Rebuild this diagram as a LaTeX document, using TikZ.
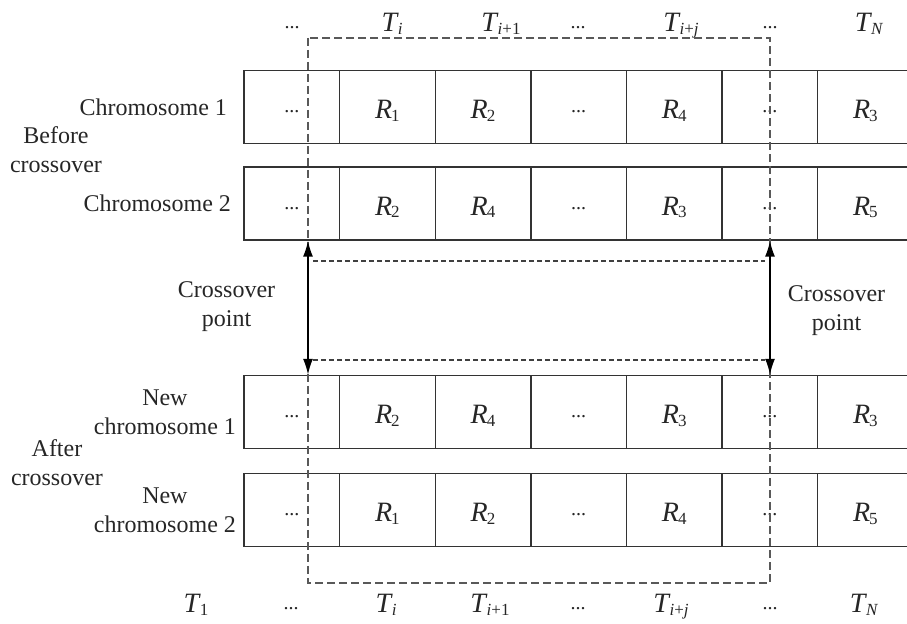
\documentclass[tikz,border=0pt]{standalone}
\usepackage{fontspec}
\setmainfont{Liberation Serif}
\usetikzlibrary{arrows.meta,positioning}
\newcommand{\sym}[2]{\textit{#1}\kern-0.5pt\raisebox{-1.2pt}{\fontsize{8.5}{9}\selectfont #2}}
\newcommand{\gapdots}{\raisebox{3pt}{\fontsize{10}{12}\selectfont ...}}

\begin{document}
\begin{tikzpicture}[x=0.5pt, y=-0.5pt,
  cell/.style={draw=black!80, line width=0.7pt, minimum width=47.8pt, minimum height=36.5pt, inner sep=0pt, text height=12pt, text depth=0pt, text=black!85, font=\fontsize{14}{16}\selectfont},
  tlab/.style={anchor=base, inner sep=0pt, text=black!85, font=\fontsize{14}{16}\selectfont},
  side/.style={inner sep=0pt, align=center, text=black!85, font=\fontsize{12}{14.5}\selectfont},
  frame/.style={draw=black!65, line width=0.6pt, dash pattern=on 4pt off 2pt},
  guide/.style={draw=black!75, line width=0.55pt, dash pattern=on 2.5pt off 1.5pt},
  xarrow/.style={{Latex[length=8pt,width=5pt]}-{Latex[length=8pt,width=5pt]}, line width=0.8pt, black}
]
  \useasboundingbox (0,0) rectangle (907,624);
  \clip (0,0) rectangle (907,624);

  \node[tlab] (ta1) at (292,29) {\fontsize{10}{12}\selectfont ...};
  \node[tlab] (ta2) at (392,32) {\sym{T}{\textit{i}}};
  \node[tlab] (ta3) at (501,32) {\sym{T}{\textit{i}+1}};
  \node[tlab] (ta4) at (578,29) {\fontsize{10}{12}\selectfont ...};
  \node[tlab] (ta5) at (681,32) {\sym{T}{\textit{i}+\textit{j}}};
  \node[tlab] (ta6) at (770,29) {\fontsize{10}{12}\selectfont ...};
  \node[tlab] (ta7) at (869,32) {\sym{T}{\textit{N}}};

  \node[cell] (a1) at (291.8,107) {\gapdots};
  \node[cell] (a2) at (387.4,107) {\sym{R}{1}};
  \node[cell] (a3) at (483.0,107) {\sym{R}{2}};
  \node[cell] (a4) at (578.6,107) {\gapdots};
  \node[cell] (a5) at (674.2,107) {\sym{R}{4}};
  \node[cell] (a6) at (769.8,107) {\gapdots};
  \node[cell] (a7) at (865.4,107) {\sym{R}{3}};

  \node[cell] (b1) at (291.8,203.5) {\gapdots};
  \node[cell] (b2) at (387.4,203.5) {\sym{R}{2}};
  \node[cell] (b3) at (483.0,203.5) {\sym{R}{4}};
  \node[cell] (b4) at (578.6,203.5) {\gapdots};
  \node[cell] (b5) at (674.2,203.5) {\sym{R}{3}};
  \node[cell] (b6) at (769.8,203.5) {\gapdots};
  \node[cell] (b7) at (865.4,203.5) {\sym{R}{5}};

  \node[cell] (na1) at (291.8,412) {\gapdots};
  \node[cell] (na2) at (387.4,412) {\sym{R}{2}};
  \node[cell] (na3) at (483.0,412) {\sym{R}{4}};
  \node[cell] (na4) at (578.6,412) {\gapdots};
  \node[cell] (na5) at (674.2,412) {\sym{R}{3}};
  \node[cell] (na6) at (769.8,412) {\gapdots};
  \node[cell] (na7) at (865.4,412) {\sym{R}{3}};

  \node[cell] (nb1) at (291.8,510) {\gapdots};
  \node[cell] (nb2) at (387.4,510) {\sym{R}{1}};
  \node[cell] (nb3) at (483.0,510) {\sym{R}{2}};
  \node[cell] (nb4) at (578.6,510) {\gapdots};
  \node[cell] (nb5) at (674.2,510) {\sym{R}{4}};
  \node[cell] (nb6) at (769.8,510) {\gapdots};
  \node[cell] (nb7) at (865.4,510) {\sym{R}{5}};

  \node[tlab] (tb0) at (196,613) {\sym{T}{1}};
  \node[tlab] (tb1) at (291,610) {\fontsize{10}{12}\selectfont ...};
  \node[tlab] (tb2) at (386,613) {\sym{T}{\textit{i}}};
  \node[tlab] (tb3) at (490,613) {\sym{T}{\textit{i}+1}};
  \node[tlab] (tb4) at (578,610) {\fontsize{10}{12}\selectfont ...};
  \node[tlab] (tb5) at (671,613) {\sym{T}{\textit{i}+\textit{j}}};
  \node[tlab] (tb6) at (770,610) {\fontsize{10}{12}\selectfont ...};
  \node[tlab] (tb7) at (864,613) {\sym{T}{\textit{N}}};

  \node[side, left=8pt of a1] (chr1) {Chromosome 1};
  \node[side, left=6pt of b1] (chr2) {Chromosome 2};
  \node[side, left=3.5pt of na1] (nchr1) {New\\chromosome 1};
  \node[side, left=3.5pt of nb1] (nchr2) {New\\chromosome 2};
  \node[side] (before) at (56,150) {Before\\crossover};
  \node[side] (after) at (57,463) {After\\crossover};
  \node[side] (cpl) at (226.5,307) {Crossover\\point};
  \node[side] (cpr) at (836.5,311) {Crossover\\point};

  \coordinate (fl) at (308,38);
  \coordinate (fr) at (770,583);
  \draw[frame] (fl) rectangle (fr);

  \coordinate (gl1) at (313,261);
  \coordinate (gr1) at (765,261);
  \coordinate (gl2) at (313,360);
  \coordinate (gr2) at (765,360);
  \draw[guide] (gl1) -- (gr1);
  \draw[guide] (gl2) -- (gr2);

  \draw[xarrow] (fl |- b1.south) -- (fl |- na1.north);
  \draw[xarrow] (fr |- b6.south) -- (fr |- na6.north);
\end{tikzpicture}
\end{document}
